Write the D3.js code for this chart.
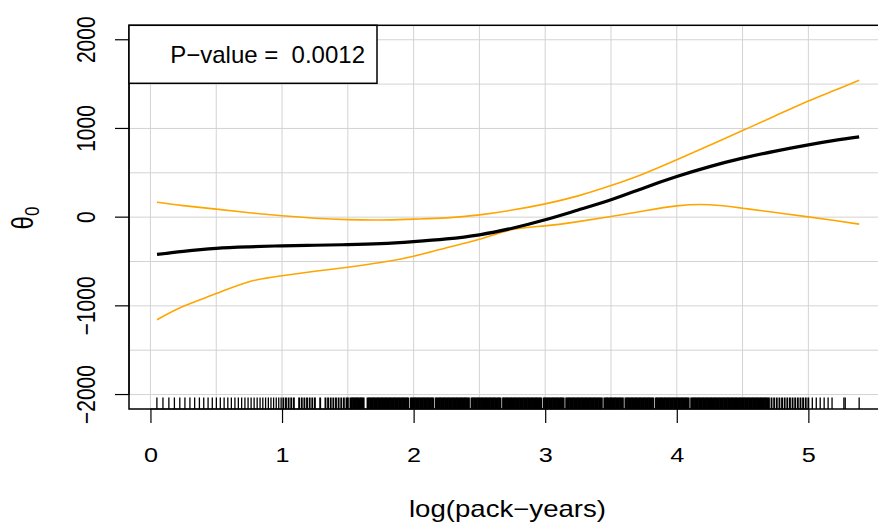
<!DOCTYPE html>
<html lang="en">
<head>
<meta charset="UTF-8">
<title>theta0 vs log(pack-years)</title>
<script src="https://d3js.org/d3.v7.min.js"></script>
<style>
  body { margin: 0; background: #fff; }
  svg { display: block; font-family: "Liberation Sans", Arial, sans-serif; }
  .grid line { stroke: #d3d3d3; stroke-width: 1; }
  .axis path, .axis line { stroke: #000; stroke-width: 1.2; }
  .axis text { font-size: 21px; fill: #000; }
</style>
</head>
<body>
<svg width="878" height="527"></svg>
<script>
// smooth fit of theta_0 against log(pack-years), with pointwise band
const xs    = [0.05, 0.25, 0.5, 0.75, 1.0, 1.25, 1.5, 1.75, 2.0, 2.25, 2.5, 2.75, 3.0, 3.25, 3.5, 3.75, 4.0, 4.25, 4.5, 4.75, 5.0, 5.2, 5.386];
const est   = [-420, -385, -352, -335, -323, -317, -310, -298, -275, -245, -199, -125, -30, 80, 195, 330, 458, 570, 665, 745, 815, 865, 905];
const upper = [169, 130, 90, 50, 15, -12, -28, -32, -22, -8, 26, 80, 150, 240, 356, 490, 646, 810, 976, 1143, 1310, 1430, 1544];
const lower = [-1157, -1005, -862, -728, -660, -610, -564, -512, -440, -345, -250, -140, -98, -50, 7, 70, 127, 140, 101, 52, 3, -38, -79];

const xTicks = [0, 1, 2, 3, 4, 5];
const yTicks = [-2000, -1000, 0, 1000, 2000];
const xGrid = [0, 0.5, 1, 1.5, 2, 2.5, 3, 3.5, 4, 4.5, 5];
const yGrid = [-2000, -1500, -1000, -500, 0, 500, 1000, 1500, 2000];
const pLabel = "P\u2212value =  0.0012";

// rug of observed log(pack-years)
const rugSparse = [0.049, 0.095, 0.140, 0.182, 0.223, 0.262, 0.300, 0.336, 0.372, 0.405, 0.438, 0.470,
  0.501, 0.531, 0.560, 0.588, 0.615, 0.642, 0.668, 0.693, 0.718, 0.742, 0.765, 0.788, 0.811, 0.833,
  0.854, 0.875, 0.896, 0.916, 0.936, 0.956, 0.975, 0.993,
  5.03, 5.06, 5.09, 5.12, 5.15, 5.18, 5.27, 5.28, 5.386];
const rugMid = [1.01, 1.03, 1.05, 1.07, 1.09, 1.13, 1.15, 1.17, 1.19, 1.21, 1.23, 1.25, 1.29, 1.33,
  1.35, 1.37, 1.39, 1.41, 1.43, 1.45, 1.47, 1.49,
  4.72, 4.74, 4.76, 4.78, 4.80, 4.82, 4.84, 4.86, 4.88, 4.90, 4.92, 4.94, 4.96, 4.98, 5.00];
const rugDense = [150,152,153,154,155,156,157,158,159,160,161,162,165,166,167,168,169,170,
  171,172,173,174,175,176,177,178,179,180,181,182,183,184,185,186,187,188,189,190,
  191,192,193,194,195,196,198,199,200,201,202,203,204,205,206,207,208,209,210,
  211,212,213,214,215,217,218,219,220,221,222,223,224,225,226,227,228,229,230,
  231,232,233,234,235,236,237,238,239,240,241,242,244,245,246,247,248,249,250,
  251,252,253,254,255,256,257,258,259,260,261,262,263,264,265,266,268,269,270,
  271,272,273,274,275,276,277,278,279,280,281,282,283,284,285,286,287,288,289,290,
  291,292,293,294,295,296,297,299,300,301,302,303,304,305,306,307,308,309,310,
  311,312,313,314,316,317,318,319,320,321,322,323,324,325,326,327,328,329,330,
  331,332,333,334,335,336,337,338,339,340,341,342,343,345,346,347,348,349,350,
  351,352,353,354,355,356,357,358,359,361,362,363,364,365,366,367,368,369,370,
  371,372,373,374,375,376,377,378,379,380,381,382,384,385,386,387,388,389,390,
  391,392,393,394,395,396,397,398,399,400,401,402,403,404,405,406,407,408,409,
  411,412,413,414,415,416,417,418,419,420,421,422,423,424,425,426,427,428,429,430,
  431,432,433,434,435,436,437,438,439,440,441,442,443,444,445,446,447,448,449,450,
  451,452,453,454,455,456,457,458,459,460,461,462,463,464,465,466,467,468,469,470];

const svg = d3.select("svg");
const plotL = 129, plotR = 886, plotT = 25.3, plotB = 409;
const sx = 1.2;   // glyphs in the reference are a bit wider than tall

const x = d3.scaleLinear().domain([-0.163, 5.59]).range([plotL, plotR]);
const y = d3.scaleLinear().domain([-2163, 2163]).range([plotB, plotT]);

// grid
const grid = svg.append("g").attr("class", "grid");
grid.selectAll("line.v").data(xGrid).enter().append("line")
    .attr("class", "v")
    .attr("x1", d => x(d)).attr("x2", d => x(d))
    .attr("y1", plotT).attr("y2", plotB);
grid.selectAll("line.h").data(yGrid).enter().append("line")
    .attr("class", "h")
    .attr("x1", plotL).attr("x2", plotR)
    .attr("y1", d => y(d)).attr("y2", d => y(d));

// curves
const series = xs.map((v, i) => ({x: v, est: est[i], up: upper[i], lo: lower[i]}));
const lineOf = key => d3.line().x(d => x(d.x)).y(d => y(d[key])).curve(d3.curveNatural);

svg.append("path").datum(series).attr("d", lineOf("up"))
    .attr("fill", "none").attr("stroke", "#FFA500").attr("stroke-width", 1.6);
svg.append("path").datum(series).attr("d", lineOf("lo"))
    .attr("fill", "none").attr("stroke", "#FFA500").attr("stroke-width", 1.6);
svg.append("path").datum(series).attr("d", lineOf("est"))
    .attr("fill", "none").attr("stroke", "#000").attr("stroke-width", 3.2);

// rug
const rugLen = 0.03 * (plotB - plotT);
function rug(vals, w) {
  svg.append("g").selectAll("line").data(vals).enter().append("line")
      .attr("x1", d => x(d)).attr("x2", d => x(d))
      .attr("y1", plotB - rugLen).attr("y2", plotB)
      .attr("stroke", "#000").attr("stroke-width", w);
}
rug(rugSparse, 1.3);
rug(rugMid, 1.9);
rug(rugDense.map(d => d / 100), 2);

// box
svg.append("rect")
    .attr("x", plotL).attr("y", plotT)
    .attr("width", plotR - plotL).attr("height", plotB - plotT)
    .attr("fill", "none").attr("stroke", "#000").attr("stroke-width", 1.5);

// axes
const xAxis = svg.append("g").attr("class", "axis")
    .attr("transform", `translate(0,${plotB})`)
    .call(d3.axisBottom(x).tickValues(xTicks).tickSize(14).tickPadding(24).tickFormat(d3.format("d")));
xAxis.select(".domain").attr("d", `M${x(0)},0H${x(5)}`);
xAxis.selectAll("text").attr("transform", `scale(${sx},1)`);

const yAxis = svg.append("g").attr("class", "axis")
    .attr("transform", `translate(${plotL},0)`)
    .call(d3.axisLeft(y).tickValues(yTicks).tickSize(14).tickFormat(d => d < 0 ? "\u2212" + Math.abs(d) : d));
yAxis.select(".domain").attr("d", `M0,${y(-2000)}V${y(2000)}`);
yAxis.selectAll("text")
    .attr("x", null).attr("dy", null)
    .attr("text-anchor", "middle")
    .attr("transform", d => `translate(${95 - plotL},${y(d)}) scale(${sx},1) rotate(-90)`);
yAxis.selectAll(".tick").attr("transform", null);
yAxis.selectAll(".tick line").attr("y1", d => y(d)).attr("y2", d => y(d));

// axis titles
svg.append("text")
    .attr("transform", `translate(${(plotL + plotR) / 2},516.5) scale(${sx},1)`)
    .attr("text-anchor", "middle")
    .attr("font-size", 23)
    .text("log(pack\u2212years)");

const yl = svg.append("text")
    .attr("transform", `translate(33,218) scale(${sx},1) rotate(-90)`)
    .attr("text-anchor", "middle")
    .attr("font-size", 24);
yl.append("tspan").text("\u03b8");
yl.append("tspan").attr("font-size", 17).attr("dy", "0.3em").text("0");

// legend
svg.append("rect")
    .attr("x", plotL).attr("y", plotT)
    .attr("width", 377 - plotL).attr("height", 83.3 - plotT)
    .attr("fill", "#fff").attr("stroke", "#000").attr("stroke-width", 1.5);
svg.append("text")
    .attr("x", 365).attr("y", 63)
    .attr("text-anchor", "end")
    .attr("font-size", 24)
    .style("white-space", "pre")
    .text(pLabel);
</script>
</body>
</html>
